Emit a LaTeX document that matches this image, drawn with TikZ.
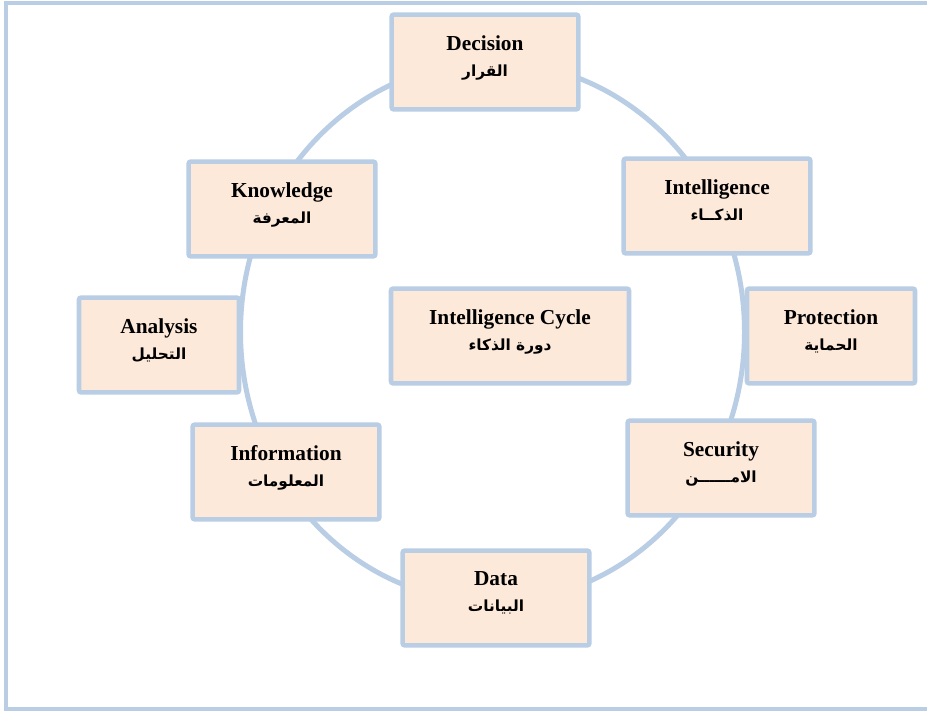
\documentclass[tikz,border=0pt]{standalone}
\usepackage{fontspec}
\setmainfont{Liberation Serif}
\newfontfamily\arabicfont[Script=Arabic]{DejaVu Sans}
\TeXXeTstate=1
\usepackage{tikz}
\definecolor{ringblue}{HTML}{B9CDE5}
\definecolor{stagefill}{HTML}{FDE9D9}
\newcommand{\stagelabel}[2]{\textbf{#1}\\{\arabicfont\bfseries\fontsize{11.5}{14}\selectfont #2}}
\tikzset{stage/.style={draw=ringblue,fill=stagefill,line width=3.4pt,rounded corners=1.5pt,
    minimum width=140pt,minimum height=71pt,align=center,
    font=\fontsize{16}{19.5}\selectfont,text depth=9pt}}

\begin{document}
\begin{tikzpicture}[x=0.75pt,y=0.75pt]
    \useasboundingbox (0,0) rectangle (927,711);
    \draw[ringblue,line width=3pt] (927,708) -- (5.5,708) -- (5.5,2) -- (927,2);
    \coordinate (ring) at (492.5,379);
    \draw[ringblue,line width=3.75pt] (ring) ellipse [x radius=252,y radius=270];

    \node[stage] (decision) at (485,649) {\stagelabel{Decision}{\beginR القرار\endR}};
    \node[stage] (knowledge) at (282,502) {\stagelabel{Knowledge}{\beginR المعرفة\endR}};
    \node[stage] (intelligence) at (717,505) {\stagelabel{Intelligence}{\beginR الذكــاء\endR}};
    \node[stage,minimum width=120pt] (analysis) at (159,366) {\stagelabel{Analysis}{\beginR التحليل\endR}};
    \node[stage,minimum width=178.5pt] (cycle) at (510,375) {\stagelabel{Intelligence Cycle}{\beginR دورة الذكاء\endR}};
    \node[stage,minimum width=126pt] (protection) at (831,375) {\stagelabel{Protection}{\beginR الحماية\endR}};
    \node[stage] (security) at (721,243) {\stagelabel{Security}{\beginR الامــــــن\endR}};
    \node[stage] (information) at (286,239) {\stagelabel{Information}{\beginR المعلومات\endR}};
    \node[stage] (data) at (496,113) {\stagelabel{Data}{\beginR البيانات\endR}};
\end{tikzpicture}
\end{document}
